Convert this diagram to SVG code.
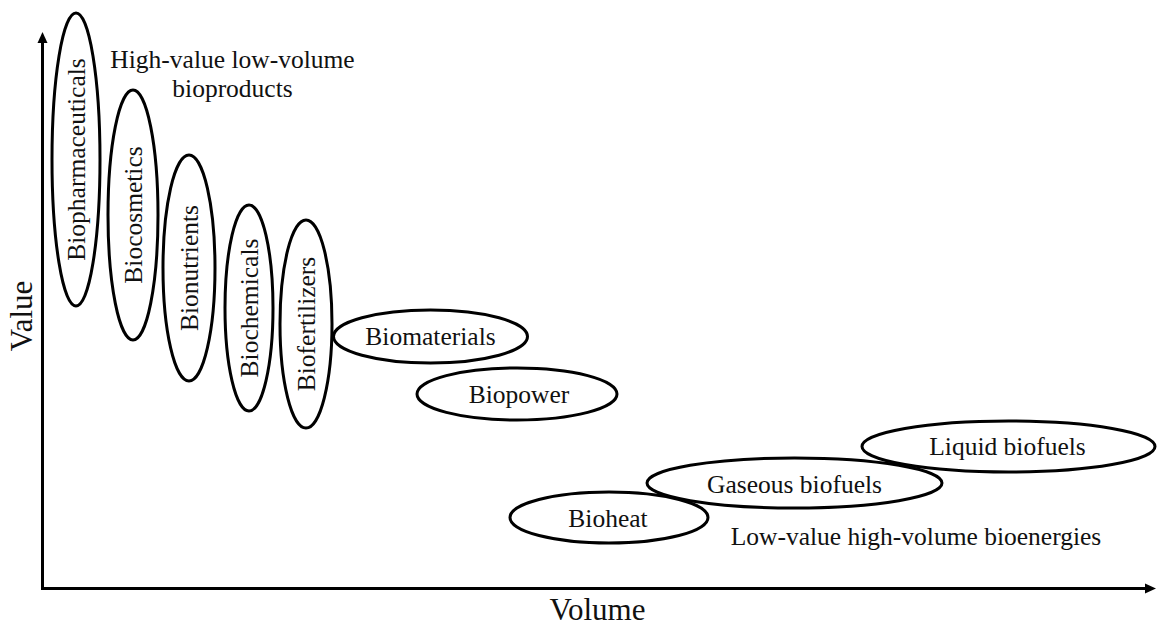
<svg xmlns="http://www.w3.org/2000/svg" width="1157" height="626" viewBox="0 0 1157 626">
<style>
.n{fill:none;stroke:#000;stroke-width:3}
text{font-family:'Liberation Serif','Times New Roman','DejaVu Serif',serif;fill:#111;text-anchor:middle}
.t{font-size:25.5px}
.ax{font-size:31px}
.axis{fill:none;stroke:#000;stroke-width:3}
</style>
<rect width="1157" height="626" fill="#fff"/>
<g id="connectors">
<path class="axis" d="M42.5,590 L42.5,42"/>
<path d="M42.5,32 L37.5,43 L47.5,43 Z" fill="#000"/>
<path class="axis" d="M41,588.5 L1146,588.5"/>
<path d="M1156,588.5 L1145,583.5 L1145,593.5 Z" fill="#000"/>
</g>
<g id="axis-labels">
<text class="ax" font-family="Liberation Serif, serif" transform="translate(32,316) rotate(-90)">Value</text>
<text class="ax" font-family="Liberation Serif, serif" x="597.5" y="620">Volume</text>
</g>
<g id="group-labels">
<text class="t" font-family="Liberation Serif, serif" x="232.5" y="68">High-value low-volume</text>
<text class="t" font-family="Liberation Serif, serif" x="232.5" y="97">bioproducts</text>
<text class="t" font-family="Liberation Serif, serif" x="916" y="545">Low-value high-volume bioenergies</text>
</g>
<g id="biopharmaceuticals">
<ellipse class="n" cx="76" cy="159.5" rx="24" ry="146.5"/>
<text class="t" font-family="Liberation Serif, serif" transform="translate(85,159.5) rotate(-90)">Biopharmaceuticals</text>
</g>
<g id="biocosmetics">
<ellipse class="n" cx="133" cy="215" rx="25" ry="125"/>
<text class="t" font-family="Liberation Serif, serif" transform="translate(142,215) rotate(-90)">Biocosmetics</text>
</g>
<g id="bionutrients">
<ellipse class="n" cx="189" cy="268" rx="26" ry="113"/>
<text class="t" font-family="Liberation Serif, serif" transform="translate(198,268) rotate(-90)">Bionutrients</text>
</g>
<g id="biochemicals">
<ellipse class="n" cx="249" cy="308" rx="24" ry="103"/>
<text class="t" font-family="Liberation Serif, serif" transform="translate(258,308) rotate(-90)">Biochemicals</text>
</g>
<g id="biofertilizers">
<ellipse class="n" cx="306" cy="324" rx="26" ry="104"/>
<text class="t" font-family="Liberation Serif, serif" transform="translate(315,324) rotate(-90)">Biofertilizers</text>
</g>
<g id="biomaterials">
<ellipse class="n" cx="430.5" cy="336.5" rx="97" ry="26.5"/>
<text class="t" font-family="Liberation Serif, serif" x="430.5" y="345">Biomaterials</text>
</g>
<g id="biopower">
<ellipse class="n" cx="517" cy="394" rx="100" ry="26"/>
<text class="t" font-family="Liberation Serif, serif" x="519" y="403">Biopower</text>
</g>
<g id="bioheat">
<ellipse class="n" cx="609" cy="517.5" rx="99" ry="25.5"/>
<text class="t" font-family="Liberation Serif, serif" x="608" y="527">Bioheat</text>
</g>
<g id="gaseous-biofuels">
<ellipse class="n" cx="794.5" cy="483" rx="147.5" ry="25"/>
<text class="t" font-family="Liberation Serif, serif" x="794.5" y="493">Gaseous biofuels</text>
</g>
<g id="liquid-biofuels">
<ellipse class="n" cx="1008.5" cy="446.5" rx="146.5" ry="25.5"/>
<text class="t" font-family="Liberation Serif, serif" x="1007.5" y="455">Liquid biofuels</text>
</g>
</svg>
